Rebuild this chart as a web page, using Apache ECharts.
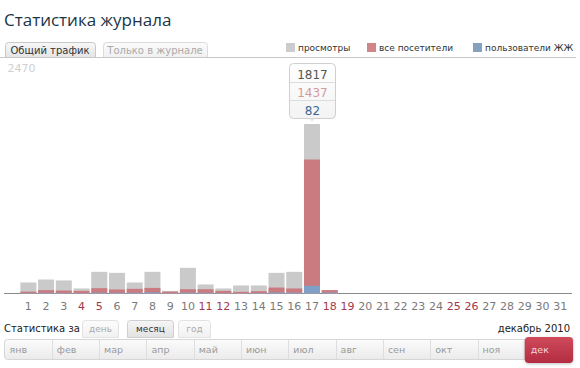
<!DOCTYPE html>
<html><head><meta charset="utf-8">
<script src="https://cdn.jsdelivr.net/npm/echarts@6/dist/echarts.min.js"></script>
<style>html,body{margin:0;padding:0;background:#fff}#c{width:580px;height:368px}</style>
</head><body><div id="c"></div>
<script>
var days = ['1','2','3','4','5','6','7','8','9','10','11','12','13','14','15','16','17','18','19','20','21','22','23','24','25','26','27','28','29','30','31'];
var weekendDays = ['4','5','11','12','18','19','25','26'];
var views    = [118,150,140,54,232,221,118,232,28,275,97,54,86,86,221,232,1817,38,0,0,0,0,0,0,0,0,0,0,0,0,0];
var visitors = [20,36,32,28,57,43,50,60,20,46,46,28,18,25,64,54,1437,36,0,0,0,0,0,0,0,0,0,0,0,0,0];
var ljUsers  = [5,8,6,4,10,8,9,12,3,10,8,4,3,5,12,10,82,10,0,0,0,0,0,0,0,0,0,0,0,0,0];
var yMax = 2470;
var seriesNames = ['просмотры','все посетители','пользователи ЖЖ'];
var months = ['янв','фев','мар','апр','май','июн','июл','авг','сен','окт','ноя','дек'];
var highlightIndex = 16;

var FONT = 'DejaVu Sans';
var C_VIEWS = '#cacaca', C_VIS = '#c97b7f', C_LJ = '#7fa0c6';

var chart = echarts.init(document.getElementById('c'), null, {renderer:'svg'});

function grad(a,b){return new echarts.graphic.LinearGradient(0,0,0,1,[{offset:0,color:a},{offset:1,color:b}]);}

var g = [];
// title
g.push({type:'text',style:{x:4,y:19,text:'Статистика журнала',font:'17px "Open Sans"',fill:'#1b3547',verticalAlign:'middle'}});
// tabs
g.push({type:'rect',shape:{x:5.5,y:42.5,width:90,height:15,r:[3,3,0,0]},style:{fill:grad('#f8f8f8','#e4e4e4'),stroke:'#c8c8c8',lineWidth:1}});
g.push({type:'text',style:{x:50,y:50,text:'Общий трафик',font:'10px '+FONT,fill:'#333',align:'center',verticalAlign:'middle'}});
g.push({type:'rect',shape:{x:103.5,y:42.5,width:104,height:15,r:[3,3,0,0]},style:{fill:grad('#fbfbfb','#f0f0f0'),stroke:'#dcdcdc',lineWidth:1}});
g.push({type:'text',style:{x:155,y:50,text:'Только в журнале',font:'10px '+FONT,fill:'#aaa',align:'center',verticalAlign:'middle'}});
g.push({type:'line',shape:{x1:0,y1:57.5,x2:576,y2:57.5},style:{stroke:'#c8c8c8',lineWidth:1}});
// legend
var legX = [286,367,473], legC = ['#cccccc','#d08589','#86a0bf'];
for (var i=0;i<3;i++){
  g.push({type:'rect',shape:{x:legX[i],y:43,width:9,height:9},style:{fill:legC[i]}});
  g.push({type:'text',style:{x:legX[i]+12,y:48,text:seriesNames[i],font:'9px '+FONT,fill:'#333',verticalAlign:'middle'}});
}
// axis baseline
g.push({type:'line',shape:{x1:4,y1:293.5,x2:572,y2:293.5},style:{stroke:'#8a8a8a',lineWidth:1}});
// bottom controls
g.push({type:'text',style:{x:4,y:328,text:'Статистика за',font:'10px '+FONT,fill:'#222',verticalAlign:'middle'}});
var tabs = [['день',82.5,36,'#aaa',false],['месяц',127.5,46,'#333',true],['год',178.5,32,'#aaa',false]];
tabs.forEach(function(t){
  g.push({type:'rect',shape:{x:t[1],y:320.5,width:t[2],height:17,r:[3,3,0,0]},style:{fill:t[4]?grad('#f6f6f6','#e2e2e2'):grad('#fcfcfc','#f1f1f1'),stroke:t[4]?'#cfcfcf':'#e2e2e2',lineWidth:1}});
  g.push({type:'text',style:{x:t[1]+t[2]/2,y:329,text:t[0],font:'9px '+FONT,fill:t[3],align:'center',verticalAlign:'middle'}});
});
g.push({type:'text',style:{x:570,y:328,text:'декабрь 2010',font:'10px '+FONT,fill:'#222',align:'right',verticalAlign:'middle'}});
// month bar
var mx0 = 4.5, mw = 47.3;
g.push({type:'rect',shape:{x:mx0,y:339.5,width:mw*11,height:20,r:[3,0,0,3]},style:{fill:grad('#fbfbfb','#ebebeb'),stroke:'#d6d6d6',lineWidth:1}});
months.forEach(function(m,i){
  var x = mx0 + i*mw;
  if (i === months.length-1){
    g.push({type:'rect',shape:{x:x,y:337,width:mw+1,height:26,r:4},style:{fill:grad('#cf4a5c','#b32c40'),shadowBlur:3,shadowColor:'rgba(0,0,0,0.25)',shadowOffsetY:1}});
    g.push({type:'text',style:{x:x+6,y:349,text:m,font:'9.5px '+FONT,fill:'#f3d6da',verticalAlign:'middle'}});
  } else {
    if (i>0) g.push({type:'line',shape:{x1:Math.round(x)+0.5,y1:340,x2:Math.round(x)+0.5,y2:359},style:{stroke:'#dedede',lineWidth:1}});
    g.push({type:'text',style:{x:x+5,y:349.5,text:m,font:'9.5px '+FONT,fill:'#9a9a9a',verticalAlign:'middle'}});
  }
});

var option = {
  animation:false,
  grid:{left:19.5,right:11,top:63,bottom:74.5,containLabel:false},
  xAxis:{type:'category',data:days,boundaryGap:true,
    axisLine:{show:false},axisTick:{show:false},
    axisLabel:{interval:0,margin:7,fontFamily:FONT,fontSize:11,
      color:function(v){return weekendDays.indexOf(v)>=0?'#a3384c':'#7a7a7a';}}},
  yAxis:{type:'value',min:0,max:yMax,interval:yMax,splitLine:{show:false},axisLine:{show:false},axisTick:{show:false},
    axisLabel:{align:'left',margin:12,verticalAlign:'top',fontFamily:FONT,fontSize:11,color:'#cfcfcf',
      formatter:function(v){return v===yMax?String(v):'';}}},
  series:[
    {name:seriesNames[0],type:'bar',data:views,barWidth:16,barGap:'-100%',itemStyle:{color:C_VIEWS}},
    {name:seriesNames[1],type:'bar',data:visitors,barWidth:16,barGap:'-100%',itemStyle:{color:C_VIS}},
    {name:seriesNames[2],type:'bar',data:ljUsers,barWidth:16,barGap:'-100%',itemStyle:{color:C_LJ}}
  ],
  graphic:g
};
chart.setOption(option);

// hover tooltip box for highlighted day
var barTop = chart.convertToPixel({xAxisIndex:0,yAxisIndex:0},[highlightIndex, views[highlightIndex]]);
var cx = Math.round(barTop[0]), by = Math.round(barTop[1])-6, bw = 46, bh = 55, bx = cx-bw/2, byTop = by-bh;
var tip = [];
tip.push({type:'rect',shape:{x:bx+0.5,y:byTop+0.5,width:bw,height:bh,r:4},style:{fill:grad('#ffffff','#f3f3f3'),stroke:'#cfcfcf',lineWidth:1}});
tip.push({type:'line',shape:{x1:bx+1,y1:byTop+19.5,x2:bx+bw,y2:byTop+19.5},style:{stroke:'#dddddd',lineWidth:1}});
tip.push({type:'line',shape:{x1:bx+1,y1:byTop+37.5,x2:bx+bw,y2:byTop+37.5},style:{stroke:'#dddddd',lineWidth:1}});
tip.push({type:'polygon',shape:{points:[[cx-3,by+0.5],[cx+3,by+0.5],[cx,by+3.5]]},style:{fill:'#e4e4e4'}});
var vals = [views[highlightIndex],visitors[highlightIndex],ljUsers[highlightIndex]];
var tc = ['#555555','#d49b9e','#3f6690'];
for (var k=0;k<3;k++){
  tip.push({type:'text',style:{x:cx+0.5,y:byTop+11.5+k*18,text:String(vals[k]),font:'12px '+FONT,fill:tc[k],align:'center',verticalAlign:'middle'}});
}
chart.setOption({graphic:g.concat(tip)});
</script>
</body></html>
